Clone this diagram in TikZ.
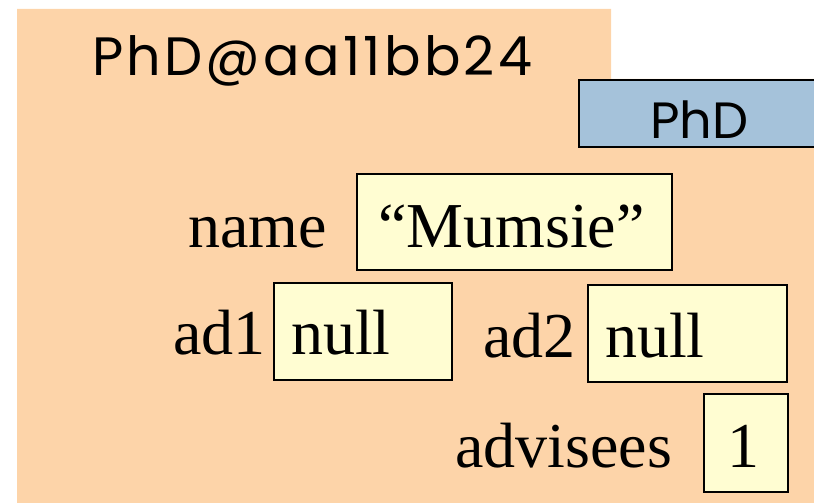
\documentclass[tikz,border=0pt]{standalone}
\usepackage{fontspec}
\setmainfont{Liberation Serif}
\newfontfamily\geo{Poppins}
\newfontfamily\geowide{Poppins}[LetterSpace=6]
\definecolor{peach}{HTML}{FDD4A9}
\definecolor{valfill}{HTML}{FFFDD2}
\definecolor{typefill}{HTML}{A5C2DA}
\tikzset{
  valbox/.style={draw=black, line width=2pt, fill=valfill, anchor=north west, inner sep=0pt},
  typebox/.style={draw=black, line width=2pt, fill=typefill, anchor=north west, inner sep=0pt},
  field/.style={anchor=base west, inner sep=0pt, font=\fontsize{64}{64}\selectfont},
  geotext/.style={anchor=base west, inner sep=0pt, font=\geo\fontsize{51}{51}\selectfont},
  geowidetext/.style={anchor=base west, inner sep=0pt, font=\geowide\fontsize{54}{54}\selectfont}
}
\begin{document}
\begin{tikzpicture}[x=1pt,y=-1pt]
\useasboundingbox (0,0) rectangle (814,503);
\fill[peach] (17,9) -- (611,9) -- (611,79) -- (830,79) -- (830,510) -- (17,510) -- cycle;
\node[geowidetext] (title) at (92,75) {PhD@aa11bb24};
\node[typebox, minimum width=250pt, minimum height=67pt] (type) at (578,79) {};
\node[geotext] (typename) at (650,138) {PhD};
\node[field] (namelbl) at (188,247) {name};
\node[valbox, minimum width=315pt, minimum height=96pt] (namebox) at (356,173) {};
\node[field] (nameval) at (378,247) {“Mumsie”};
\node[field] (ad1lbl) at (173,354) {ad1};
\node[valbox, minimum width=178pt, minimum height=97pt] (ad1box) at (273,282) {};
\node[field] (ad1val) at (291,354) {null};
\node[field] (ad2lbl) at (483,357) {ad2};
\node[valbox, minimum width=199pt, minimum height=97pt] (ad2box) at (587,284) {};
\node[field] (ad2val) at (605,357) {null};
\node[field] (advlbl) at (455,467) {advisees};
\node[valbox, minimum width=84pt, minimum height=98pt] (advbox) at (703,393) {};
\node[field] (advval) at (727,467) {1};
\end{tikzpicture}
\end{document}
